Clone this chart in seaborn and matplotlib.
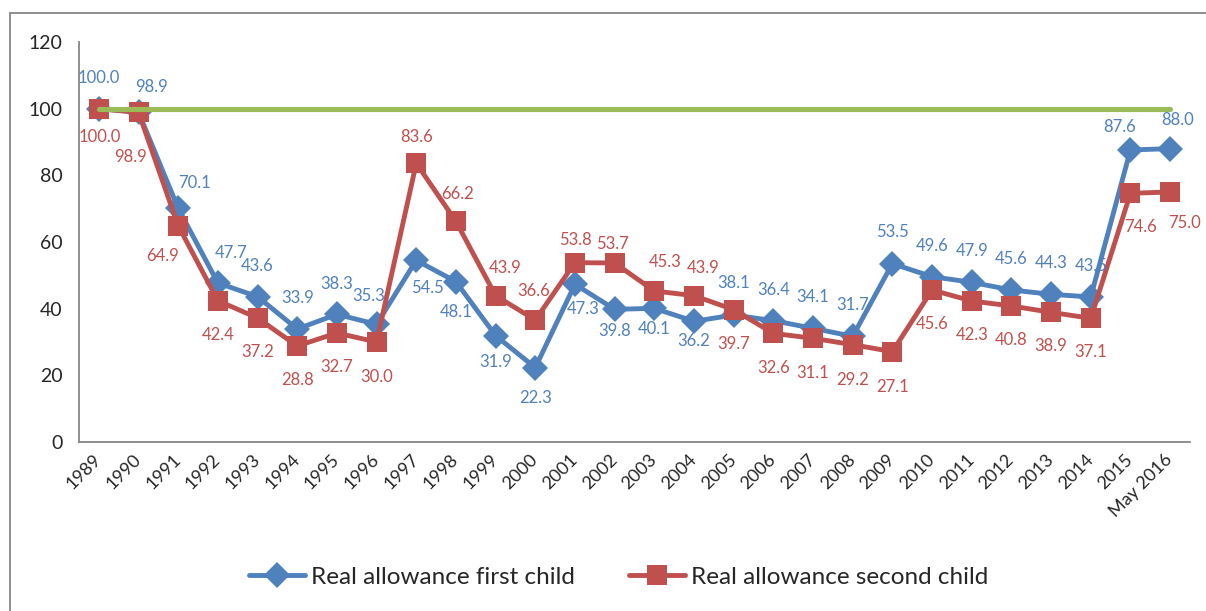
import numpy as np
import pandas as pd
import matplotlib
matplotlib.use('Agg')
import matplotlib.pyplot as plt
import seaborn as sns
from matplotlib.patches import Rectangle

# Data
periods = ['1989', '1990', '1991', '1992', '1993', '1994', '1995', '1996', '1997',
           '1998', '1999', '2000', '2001', '2002', '2003', '2004', '2005', '2006',
           '2007', '2008', '2009', '2010', '2011', '2012', '2013', '2014', '2015',
           'May 2016']
first_child = [100.0, 98.9, 70.1, 47.7, 43.6, 33.9, 38.3, 35.3, 54.5, 48.1, 31.9,
               22.3, 47.3, 39.8, 40.1, 36.2, 38.1, 36.4, 34.1, 31.7, 53.5, 49.6,
               47.9, 45.6, 44.3, 43.5, 87.6, 88.0]
second_child = [100.0, 98.9, 64.9, 42.4, 37.2, 28.8, 32.7, 30.0, 83.6, 66.2, 43.9,
                36.6, 53.8, 53.7, 45.3, 43.9, 39.7, 32.6, 31.1, 29.2, 27.1, 45.6,
                42.3, 40.8, 38.9, 37.1, 74.6, 75.0]
reference_level = 100.0

# label offsets (pixels, dy up) - placement only
first_offsets = [(0, 31), (13, 25), (16, 25), (13, 30), (0, 31), (0, 31), (0, 30),
                 (-8, 28), (11, -28), (0, -30), (0, -26), (0, -30), (8, -25),
                 (0, -22), (0, -21), (0, -20), (0, 32), (0, 31), (0, 31), (0, 31),
                 (0, 32), (0, 31), (0, 31), (0, 31), (0, 31), (0, 31), (-11, 23),
                 (8, 29)]
second_offsets = [(1, -28), (-8, -45), (-16, -30), (0, -34), (0, -34), (0, -34),
                  (0, -34), (0, -35), (0, 26), (2, 27), (10, 28), (-2, 29), (1, 23),
                  (-2, 19), (11, 29), (9, 28), (0, -34), (0, -35), (0, -35),
                  (0, -35), (0, -35), (0, -34), (0, -34), (0, -34), (0, -34),
                  (0, -34), (10, -34), (14, -31)]

BLUE = '#4F81BD'
RED = '#C0504D'
GREEN = '#9BBB59'
GREY = '#868686'

df = pd.DataFrame({'period': periods, 'pos': np.arange(len(periods)),
                   'first': first_child, 'second': second_child})
df['reference'] = reference_level

sns.set_style('white')
plt.rcParams['font.family'] = ['Lato', 'DejaVu Sans']

fig = plt.figure(figsize=(12.06, 6.11), dpi=100)
ax = fig.add_axes([0.0655, 0.2766, 0.9212, 0.6547])

sns.lineplot(data=df, x='pos', y='first', color=BLUE, marker='D', markersize=13,
             markeredgewidth=0, linewidth=3.5, label='Real allowance first child',
             ax=ax, zorder=3)
sns.lineplot(data=df, x='pos', y='second', color=RED, marker='s', markersize=14,
             markeredgewidth=0, linewidth=3.5, label='Real allowance second child',
             ax=ax, zorder=4)
sns.lineplot(data=df, x='pos', y='reference', color=GREEN, linewidth=3.7,
             solid_capstyle='round', ax=ax, zorder=5)

for i, v in enumerate(first_child):
    dx, dy = first_offsets[i]
    ax.annotate(f'{v:.1f}', (i, v), xytext=(dx * 0.72, dy * 0.72),
                textcoords='offset points', ha='center', va='center',
                color=BLUE, fontsize=12, zorder=6)
for i, v in enumerate(second_child):
    dx, dy = second_offsets[i]
    ax.annotate(f'{v:.1f}', (i, v), xytext=(dx * 0.72, dy * 0.72),
                textcoords='offset points', ha='center', va='center',
                color=RED, fontsize=12, zorder=6)

# axes styling
ax.set_xlim(-0.5, len(periods) - 0.5)
ax.set_ylim(0, 120)
ax.set_yticks(np.arange(0, 121, 20))
ax.set_xticks(np.arange(-0.5, len(periods), 1))
ax.set_xticklabels([])
ax.set_xticks(np.arange(len(periods)), labels=periods, minor=True)
ax.tick_params(axis='x', which='major', length=6, width=1.3, color=GREY, direction='out')
ax.tick_params(axis='x', which='minor', length=0, pad=11, labelsize=13)
ax.tick_params(axis='y', length=6, width=1.3, color=GREY, direction='out',
               labelsize=14, pad=6)
for lab in ax.get_xticklabels(minor=True):
    lab.set_rotation(45)
    lab.set_ha('right')
    lab.set_va('center')
    lab.set_rotation_mode('anchor')
ax.set_xlabel('')
ax.set_ylabel('')
sns.despine(ax=ax)
for side in ['left', 'bottom']:
    ax.spines[side].set_color(GREY)
    ax.spines[side].set_linewidth(1.3)

handles, labels = ax.get_legend_handles_labels()
ax.get_legend().remove()
fig.legend(handles[:2], labels[:2], loc='center', bbox_to_anchor=(0.513, 0.0556),
           ncol=2, frameon=False, fontsize=17.5, handlelength=2.3,
           handletextpad=0.25, columnspacing=2.2)

# outer chart border
fig.add_artist(Rectangle((0.0079, -0.05), 1.2, 1.0292, transform=fig.transFigure,
                         fill=False, edgecolor=GREY, linewidth=1.3, clip_on=False))

fig.savefig('out.png', dpi=100)
